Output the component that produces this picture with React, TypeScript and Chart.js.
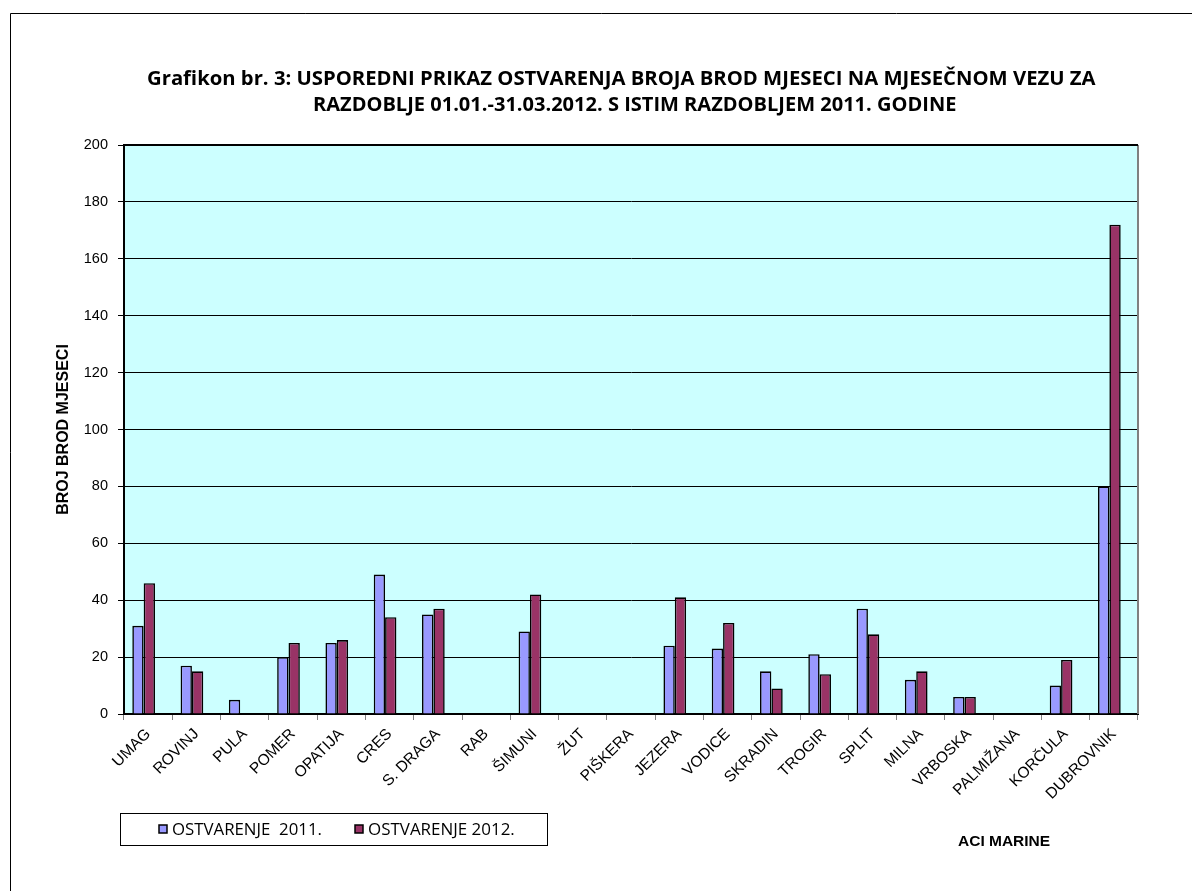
import React, { useEffect, useRef } from "react";
import { Chart, registerables } from "chart.js";

Chart.register(...registerables);

const categories = [
  "UMAG", "ROVINJ", "PULA", "POMER", "OPATIJA", "CRES", "S. DRAGA", "RAB",
  "ŠIMUNI", "ŽUT", "PIŠKERA", "JEZERA", "VODICE", "SKRADIN", "TROGIR",
  "SPLIT", "MILNA", "VRBOSKA", "PALMIŽANA", "KORČULA", "DUBROVNIK",
];

const values2011 = [31, 17, 5, 20, 25, 49, 35, 0, 29, 0, 0, 24, 23, 15, 21, 37, 12, 6, 0, 10, 80];
const values2012 = [46, 15, 0, 25, 26, 34, 37, 0, 42, 0, 0, 41, 32, 9, 14, 28, 15, 6, 0, 19, 172];

const seriesLabels = ["OSTVARENJE  2011.", "OSTVARENJE 2012."];
const seriesColors = ["#9999FF", "#993366"];

const yTicks = [0, 20, 40, 60, 80, 100, 120, 140, 160, 180, 200];

const titleLines = [
  "Grafikon br. 3: USPOREDNI PRIKAZ OSTVARENJA BROJA BROD MJESECI NA MJESEČNOM VEZU ZA",
  "RAZDOBLJE 01.01.-31.03.2012. S ISTIM RAZDOBLJEM 2011. GODINE",
];
const yTitle = "BROJ BROD MJESECI";
const footerText = "ACI MARINE";

const W = 1192;
const H = 891;

function fitFont(ctx: CanvasRenderingContext2D, text: string, weight: string, family: string, target: number) {
  ctx.font = `${weight} 100px ${family}`;
  const w = ctx.measureText(text).width;
  const size = (100 * target) / w;
  return `${weight} ${size.toFixed(2)}px ${family}`;
}

const decorPlugin = {
  id: "decor",
  beforeDraw(chart: any) {
    const { ctx, chartArea } = chart;
    ctx.save();
    ctx.fillStyle = "#FFFFFF";
    ctx.fillRect(0, 0, chart.width, chart.height);
    ctx.fillStyle = "#CCFFFF";
    ctx.fillRect(chartArea.left, chartArea.top, chartArea.right - chartArea.left, chartArea.bottom - chartArea.top);
    ctx.restore();
  },
  beforeDatasetsDraw(chart: any) {
    // Excel draws the bar groups slightly left of the category centre
    chart.ctx.save();
    chart.ctx.translate(-4.5, 0);
  },
  afterDatasetsDraw(chart: any) {
    chart.ctx.restore();
  },
  afterDraw(chart: any) {
    const { ctx, chartArea } = chart;
    ctx.save();
    // right border of plot area
    ctx.strokeStyle = "#808080";
    ctx.lineWidth = 2;
    ctx.beginPath();
    ctx.moveTo(chartArea.right, chartArea.top);
    ctx.lineTo(chartArea.right, chartArea.bottom);
    ctx.stroke();
    // top border of plot
    ctx.strokeStyle = "#000000";
    ctx.lineWidth = 2;
    ctx.beginPath();
    ctx.moveTo(chartArea.left, chartArea.top);
    ctx.lineTo(chartArea.right, chartArea.top);
    ctx.stroke();

    // outer frame (top and left)
    ctx.strokeStyle = "#000000";
    ctx.lineWidth = 1;
    ctx.beginPath();
    ctx.moveTo(10.5, H);
    ctx.lineTo(10.5, 13.5);
    ctx.lineTo(W, 13.5);
    ctx.stroke();

    // title
    ctx.fillStyle = "#000000";
    ctx.textBaseline = "middle";
    ctx.textAlign = "left";
    ctx.font = fitFont(ctx, titleLines[0], "700", "'Open Sans'", 949);
    ctx.fillText(titleLines[0], 147, 79);
    ctx.font = fitFont(ctx, titleLines[1], "700", "'Open Sans'", 644);
    ctx.fillText(titleLines[1], 313, 105);

    // legend box
    ctx.strokeStyle = "#000000";
    ctx.lineWidth = 1;
    ctx.strokeRect(120.5, 813.5, 427, 32);
    const legendX = [159, 355];
    const textW = [150, 147];
    for (let i = 0; i < 2; i++) {
      ctx.fillStyle = seriesColors[i];
      ctx.fillRect(legendX[i], 825, 8, 8);
      ctx.strokeStyle = "#000000";
      ctx.lineWidth = 1.5;
      ctx.strokeRect(legendX[i], 825, 8, 8);
      ctx.fillStyle = "#000000";
      ctx.font = fitFont(ctx, seriesLabels[i], "400", "'Open Sans'", textW[i]);
      ctx.textBaseline = "middle";
      ctx.fillText(seriesLabels[i], legendX[i] + 13, 830);
    }

    // footer
    ctx.font = "bold 15.5px 'Liberation Sans', Arial";
    ctx.fillStyle = "#000000";
    ctx.textBaseline = "middle";
    ctx.fillText(footerText, 958, 842);
    ctx.restore();
  },
};

export default function App() {
  const ref = useRef<HTMLCanvasElement | null>(null);
  useEffect(() => {
    if (!ref.current) return;
    const chart = new Chart(ref.current, {
      type: "bar",
      data: {
        labels: categories,
        datasets: [
          {
            label: seriesLabels[0],
            data: values2011,
            backgroundColor: seriesColors[0],
            borderColor: "#000000",
            borderWidth: 1.6,
            categoryPercentage: 0.47,
            barPercentage: 1,
          },
          {
            label: seriesLabels[1],
            data: values2012,
            backgroundColor: seriesColors[1],
            borderColor: "#000000",
            borderWidth: 1.6,
            categoryPercentage: 0.47,
            barPercentage: 1,
          },
        ],
      },
      options: {
        responsive: false,
        animation: false,
        layout: { padding: { left: 52, top: 145, right: 54, bottom: 0 } },
        plugins: {
          legend: { display: false },
          title: { display: false },
          tooltip: { enabled: false },
        },
        scales: {
          x: {
            grid: { drawOnChartArea: false, color: "#808080", tickLength: 6, offset: true },
            border: { color: "#000000", width: 2 },
            ticks: {
              color: "#000000",
              font: { family: "'Liberation Sans', Arial", size: 15.5 },
              minRotation: 45,
              maxRotation: 45,
              autoSkip: false,
              padding: 5,
            },
            afterFit(scale: any) {
              scale.height = H - 714;
            },
          },
          y: {
            min: 0,
            max: 200,
            afterBuildTicks(scale: any) {
              scale.ticks = yTicks.map((v) => ({ value: v }));
            },
            grid: { color: "#000000", lineWidth: 1, tickLength: 6 },
            border: { color: "#000000", width: 2 },
            ticks: {
              color: "#000000",
              font: { family: "'Liberation Sans', Arial", size: 14.5 },
              padding: 10,
            },
            title: {
              display: true,
              text: yTitle,
              color: "#000000",
              font: { family: "'Liberation Sans', Arial", size: 16, weight: "bold" },
              padding: 2,
            },
            afterFit(scale: any) {
              scale.width = 124 - 52;
            },
          },
        },
      },
      plugins: [decorPlugin],
    });
    return () => chart.destroy();
  }, []);
  return (
    <div style={{ position: "absolute", left: 0, top: 0, width: W, height: H }}>
      <canvas ref={ref} width={W} height={H} style={{ display: "block", width: W, height: H }} />
    </div>
  );
}
